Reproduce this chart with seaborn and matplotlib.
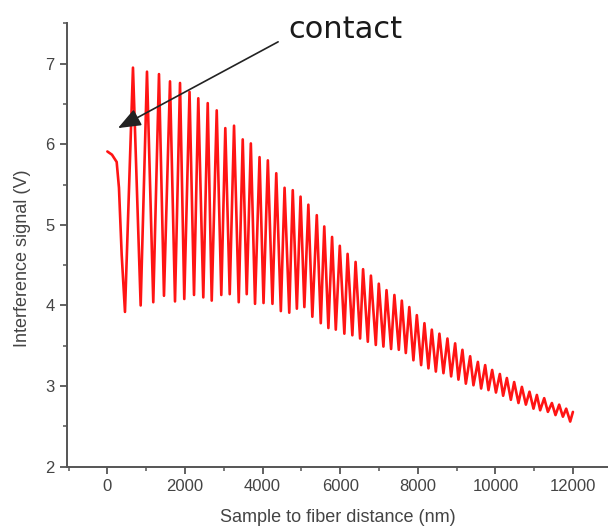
import matplotlib
matplotlib.use("Agg")
import matplotlib.pyplot as plt
from matplotlib.ticker import MultipleLocator
import seaborn as sns
import pandas as pd

# Extrema of the interference signal (nm, V)
distance_nm = [
    0, 119, 240, 299, 369, 454, 660, 858, 1021, 1183, 1330, 1459, 1614, 1743, 1872, 1982,
    2117, 2233, 2343, 2472, 2586, 2689, 2818, 2936, 3039, 3153, 3264, 3385, 3488, 3591,
    3697, 3805, 3921, 4024, 4135, 4254, 4352, 4470, 4566, 4687, 4777, 4883, 4978, 5076,
    5179, 5282, 5396, 5499, 5589, 5695, 5790, 5886, 5989, 6107, 6190, 6313, 6396, 6512,
    6589, 6711, 6791, 6917, 6994, 7113, 7193, 7311, 7396, 7510, 7587, 7690, 7780, 7886,
    7974, 8085, 8170, 8273, 8360, 8464, 8556, 8660, 8763, 8858, 8961, 9046, 9149, 9237,
    9348, 9433, 9547, 9631, 9735, 9820, 9915, 10013, 10113, 10198, 10294, 10397, 10482,
    10593, 10681, 10784, 10877, 10980, 11067, 11152, 11256, 11351, 11454, 11547, 11642,
    11738, 11823, 11926, 11996,
]
signal_v = [
    5.91, 5.87, 5.78, 5.46, 4.63, 3.92, 6.95, 4.00, 6.90, 4.04, 6.87, 4.12, 6.78, 4.05, 6.76, 4.08,
    6.65, 4.13, 6.57, 4.10, 6.51, 4.06, 6.42, 4.13, 6.20, 4.14, 6.23, 4.04, 6.06, 4.14,
    6.01, 4.02, 5.84, 4.03, 5.80, 4.02, 5.64, 3.93, 5.46, 3.91, 5.43, 3.96, 5.35, 3.98,
    5.25, 3.86, 5.12, 3.78, 4.98, 3.72, 4.85, 3.70, 4.74, 3.65, 4.64, 3.63, 4.54, 3.59,
    4.45, 3.55, 4.37, 3.51, 4.27, 3.49, 4.19, 3.46, 4.13, 3.45, 4.06, 3.41, 3.98, 3.32,
    3.88, 3.26, 3.78, 3.22, 3.70, 3.18, 3.65, 3.16, 3.59, 3.12, 3.53, 3.08, 3.45, 3.03,
    3.37, 3.01, 3.30, 2.97, 3.26, 2.95, 3.20, 2.92, 3.15, 2.88, 3.10, 2.83, 3.05,
    2.79, 2.99, 2.77, 2.93, 2.72, 2.89, 2.70, 2.85, 2.68, 2.79, 2.64, 2.77,
    2.62, 2.72, 2.56, 2.68,
]

x_ticks = [0, 2000, 4000, 6000, 8000, 10000, 12000]
y_ticks = [2, 3, 4, 5, 6, 7]
x_label = "Sample to fiber distance (nm)"
y_label = "Interference signal (V)"
annotation_text = "contact"
contact_tip = (273, 6.20)
contact_tail = (4400, 7.27)

df = pd.DataFrame({"distance": distance_nm, "signal": signal_v})

sns.set_style("ticks")
plt.rcParams["font.family"] = ["Liberation Sans", "DejaVu Sans"]

fig = plt.figure(figsize=(6.08, 5.30), dpi=100)
ax = fig.add_axes([67 / 608, 63.3 / 530, (608 - 67) / 608, (466.7 - 23.3) / 530])

sns.lineplot(data=df, x="distance", y="signal", sort=False, color="#ff1414",
             linewidth=1.9, ax=ax)

ax.set_xlim(-1040, 12900)
ax.set_ylim(2, 7.5)
ax.set_xticks(x_ticks)
ax.set_xticklabels([str(t) for t in x_ticks])
ax.set_yticks(y_ticks)
ax.set_yticklabels([str(t) for t in y_ticks])
ax.xaxis.set_minor_locator(MultipleLocator(1000))
ax.yaxis.set_minor_locator(MultipleLocator(0.5))

spine_col = "#555555"
for s in ["top", "right"]:
    ax.spines[s].set_visible(False)
for s in ["left", "bottom"]:
    ax.spines[s].set_color(spine_col)
    ax.spines[s].set_linewidth(1.4)
ax.tick_params(which="major", direction="out", length=5, width=1.3, color=spine_col,
               labelsize=12, labelcolor="#444444", pad=4)
ax.tick_params(which="minor", direction="out", length=3, width=1.1, color=spine_col)

ax.set_xlabel(x_label, fontsize=13, color="#444444", labelpad=11)
ax.set_ylabel(y_label, fontsize=13, color="#444444")
ax.yaxis.set_label_coords(-0.066, 0.47)

ax.annotate("", xy=contact_tip, xytext=contact_tail, xycoords="data", textcoords="data",
            arrowprops=dict(arrowstyle="-|>,head_length=1.4,head_width=0.55",
                            color="#222222", lw=1.2, shrinkA=0, shrinkB=0),
            annotation_clip=False)
fig.text(288 / 608, 1 - 38 / 530, annotation_text, fontsize=22, color="#1a1a1a",
         family="DejaVu Sans", ha="left", va="baseline")

fig.savefig("out.png", dpi=100, facecolor="white")
